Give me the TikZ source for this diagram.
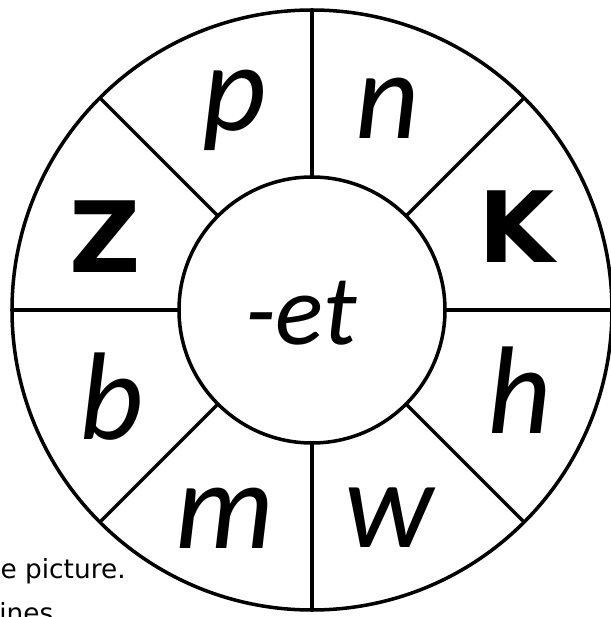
\documentclass[tikz,border=0pt]{standalone}
\usepackage{fontspec}
\setmainfont{Carlito}
\newfontfamily\capsfont{DejaVu Sans}
\usepackage{tikz}

\tikzset{
  rim/.style={line width=2pt},
  letter/.style={inner sep=0pt,font=\fontsize{71pt}{71pt}\selectfont\itshape},
  bigcap/.style={inner sep=0pt,font=\capsfont\bfseries\fontsize{56pt}{56pt}\selectfont},
  ending/.style={inner sep=0pt,font=\fontsize{57pt}{57pt}\selectfont\itshape},
  note/.style={inner sep=0pt,font=\capsfont\fontsize{15pt}{18pt}\selectfont}
}

\begin{document}
\begin{tikzpicture}
		\useasboundingbox (0,0) rectangle (12.22,12.34);
		\clip (0,0) rectangle (12.22,12.34);

		% text left over from the page
		\node [note,anchor=base east] (line1) at (2.52,0.78) {e picture.};
		\node [note,anchor=base west] (line2) at (-0.02,-0.10) {ines};

		% the wheel
		\begin{scope}[shift={(6.24,6.14)}]
			\filldraw [rim,fill=white] (0,0) circle [radius=6.0];
			\draw [rim] (0,0) circle [radius=2.66];
			\foreach \a in {0,45,...,315}
				\draw [rim] (\a:2.66) -- (\a:6.0);
		\end{scope}

		\node [ending] (et) at (6.02,6.08) {-et};

		\node [letter] (p) at (4.70,10.14) {p};
		\node [letter] (n) at (7.76,10.18) {n};
		\node [bigcap] (z) at (2.10,7.60) {Z};
		\node [bigcap] (k) at (10.34,7.80) {K};
		\node [letter] (b) at (2.24,4.40) {b};
		\node [letter] (h) at (10.40,4.54) {h};
		\node [letter] (m) at (4.50,1.98) {m};
		\node [letter] (w) at (7.78,1.98) {w};
	\end{tikzpicture}
\end{document}
